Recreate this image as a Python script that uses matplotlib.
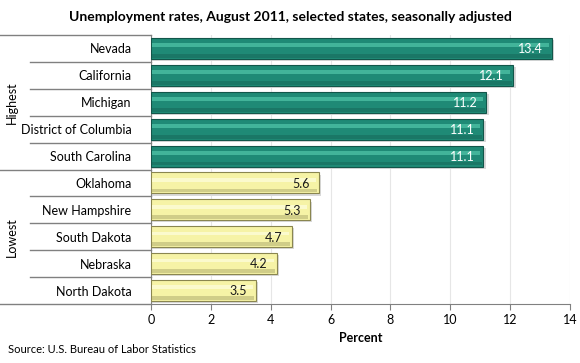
import matplotlib.pyplot as plt
import matplotlib.transforms as mtransforms

plt.rcParams['font.family'] = ['Lato', 'DejaVu Sans']

states = ['Nevada', 'California', 'Michigan', 'District of Columbia', 'South Carolina',
          'Oklahoma', 'New Hampshire', 'South Dakota', 'Nebraska', 'North Dakota']
rates = [13.4, 12.1, 11.2, 11.1, 11.1, 5.6, 5.3, 4.7, 4.2, 3.5]
groups = ['Highest'] * 5 + ['Lowest'] * 5
xticks = [0, 2, 4, 6, 8, 10, 12, 14]

fig = plt.figure(figsize=(5.8, 3.63), dpi=100)
ax = fig.add_axes([0.2603, 0.1625, 0.7225, 0.7411])

ypos = list(range(len(states)))
h = 0.78
for y, v, g in zip(ypos, rates, groups):
    if g == 'Highest':
        base, light, dark, txt = '#1f8a76', '#4cbfa4', '#12564a', 'white'
    else:
        base, light, dark, txt = '#f6f3a6', '#fdfcd8', '#8a8650', '#1a1a1a'
    # shadow
    ax.barh(y + 0.08, v + 0.08, height=h, left=0.0, color='#d9d9d9', zorder=2)
    ax.barh(y, v, height=h, color=base, edgecolor=dark, linewidth=0.8, zorder=3)
    ax.barh(y - 0.12, v - 0.15, height=h * 0.18, left=0.05, color=light, zorder=4, alpha=0.8)
    ax.barh(y + 0.28, v - 0.1, height=h * 0.18, left=0.05, color=dark, zorder=4, alpha=0.35)
    ax.text(v - 0.3, y + 0.03, f'{v}', ha='right', va='center', color=txt,
            fontsize=9, zorder=5)

ax.set_ylim(len(states) - 0.5, -0.5)
ax.set_xlim(0, 14)
ax.set_xticks(xticks)
ax.set_xticklabels([str(t) for t in xticks], fontsize=9)
ax.set_yticks(ypos)
ax.set_yticklabels(states, fontsize=9)
ax.tick_params(axis='y', length=0, pad=14)
ax.tick_params(axis='x', length=4, color='#808080', direction='out')
ax.grid(axis='x', color='#e6e6e6', linewidth=0.8, zorder=0)
ax.set_axisbelow(True)
for s in ['top', 'right']:
    ax.spines[s].set_visible(False)
ax.spines['left'].set_color('#808080')
ax.spines['bottom'].set_color('#808080')
ax.set_xlabel('Percent', fontsize=9, fontweight='bold', labelpad=4)

# category separator lines to the left of the axis
trans = mtransforms.blended_transform_factory(ax.transAxes, ax.transData)
x0 = -151 / 419
x1 = -121 / 419
for b in [i - 0.5 for i in range(len(states) + 1)]:
    start = x0 if b in (-0.5, 4.5, 9.5) else x1
    ax.plot([start, 0], [b, b], color='#808080', linewidth=1, transform=trans,
            clip_on=False, zorder=1)

for name, (lo, hi) in [('Highest', (0, 4)), ('Lowest', (5, 9))]:
    ax.text(-139 / 419, (lo + hi) / 2, name, rotation=90, ha='center', va='center',
            fontsize=9, transform=trans)

fig.text(0.5, 0.953, 'Unemployment rates, August 2011, selected states, seasonally adjusted',
         ha='center', va='center', fontsize=10, fontweight='bold')
fig.text(0.014, 0.036, 'Source: U.S. Bureau of Labor Statistics', ha='left', va='center',
         fontsize=8)

fig.savefig('out.png', dpi=100)
